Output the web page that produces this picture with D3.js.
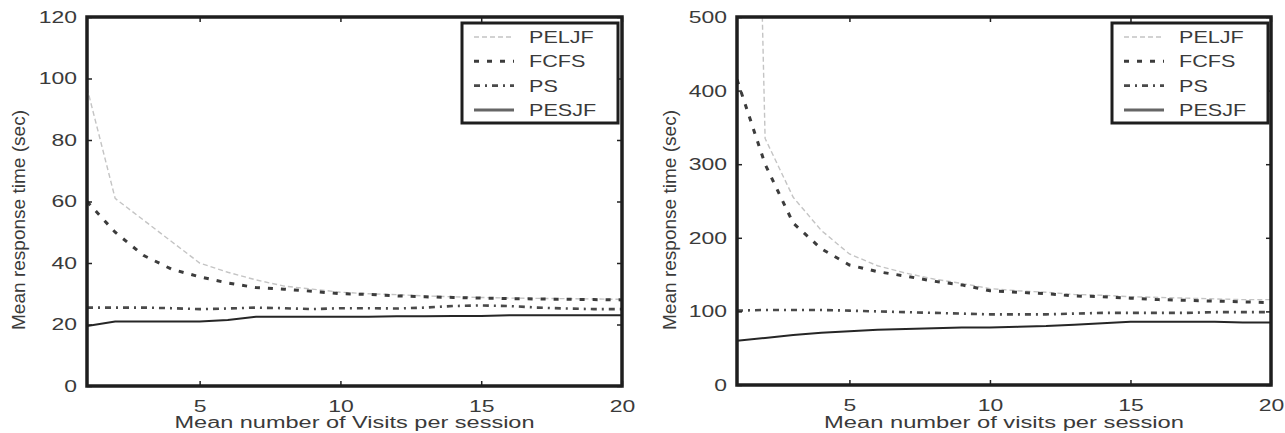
<!DOCTYPE html>
<html>
<head>
<meta charset="utf-8">
<script src="https://cdn.jsdelivr.net/npm/d3@7"></script>
<style>
  body { margin: 0; background: #fff; }
  text { font-family: "Liberation Sans", Arial, sans-serif; fill: #3a3a3a; }
</style>
</head>
<body>
<div id="chartDiv"></div>
<script>

// mean visits per session (x)
var visits = [1, 2, 3, 4, 5, 6, 7, 8, 9, 10, 11, 12, 13, 14, 15, 16, 17, 18, 19, 20];

// left panel, mean response time (sec)
var left_peljf = [97, 61, 54, 47, 40, 37, 34.5, 32.5, 31.5, 30.5, 30, 29.7, 29.3, 29, 28.8, 28.6, 28.5, 28.4, 28.3, 28.2];
var left_fcfs  = [60, 50, 42.5, 38, 35.5, 33.5, 32, 31.5, 30.8, 30, 29.8, 29.3, 29, 28.8, 28.6, 28.4, 28.3, 28.2, 28.1, 28];
var left_ps    = [25.5, 25.5, 25.5, 25.3, 25, 25.2, 25.5, 25.3, 25, 25.3, 25.3, 25.2, 25.5, 26, 26.2, 26, 25.5, 25.2, 25, 25];
var left_pesjf = [19.5, 21, 21, 21, 21, 21.5, 22.5, 22.5, 22.5, 22.5, 22.5, 22.7, 22.7, 22.8, 22.8, 23, 23, 23, 23, 23];

// right panel, mean response time (sec)
var right_peljf = [2000, 335, 255, 210, 178, 162, 152, 144, 138, 131, 128, 126, 123, 122, 120, 119, 118, 117, 116, 116];
var right_fcfs  = [415, 300, 220, 185, 163, 154, 148, 141, 136, 128, 126, 124, 121, 120, 118, 116, 115, 114, 113, 112];
var right_ps    = [101, 102, 102, 102, 101, 100, 99, 98, 97, 96, 96, 96, 97, 98, 98, 98, 98, 99, 99, 99];
var right_pesjf = [60, 64, 68, 71, 73, 75, 76, 77, 78, 78, 79, 80, 82, 84, 86, 86, 86, 86, 85, 85];

var series_names = ["PELJF", "FCFS", "PS", "PESJF"];
var x_ticks = [5, 10, 15, 20];
var left_y_ticks = [0, 20, 40, 60, 80, 100, 120];
var right_y_ticks = [0, 100, 200, 300, 400, 500];

var line_styles = {
  "PELJF": {stroke: "#c4c4c4", width: 1.4, dash: "5,3"},
  "FCFS":  {stroke: "#3c3c3c", width: 3,   dash: "5,8"},
  "PS":    {stroke: "#4a4a4a", width: 2.6, dash: "6,5,2,5"},
  "PESJF": {stroke: "#262626", width: 2,   dash: null}
};

var stretch = 1.35;   // the picture text is wide, squeeze it back out

var svg = d3.select("#chartDiv").append("svg")
    .attr("width", 1285)
    .attr("height", 433);

var panels = [
  {left: 87, right: 622, top: 17, bottom: 386, ymax: 120, yticks: left_y_ticks,
   xlabel: "Mean number of Visits per session", ylabelX: 20,
   data: [left_peljf, left_fcfs, left_ps, left_pesjf], legendX: 462},
  {left: 737, right: 1271, top: 17, bottom: 385, ymax: 500, yticks: right_y_ticks,
   xlabel: "Mean number of visits per session", ylabelX: 671,
   data: [right_peljf, right_fcfs, right_ps, right_pesjf], legendX: 1112}
];

panels.forEach(function(p, pi) { drawPanel(p, pi); });

function stretchText(sel) {
  sel.each(function() {
    var t = d3.select(this);
    var x = +t.attr("x") || 0;
    t.attr("x", x / stretch).attr("transform", "scale(" + stretch + ",1)");
  });
}

function drawPanel(p, pi) {
  var w = p.right - p.left, h = p.bottom - p.top;
  var g = svg.append("g").attr("transform", "translate(" + p.left + "," + p.top + ")");

  var x_scale = d3.scaleLinear().domain([1, 20]).range([0, w]);
  var y_scale = d3.scaleLinear().domain([0, p.ymax]).range([h, 0]);

  g.append("clipPath").attr("id", "clip" + pi)
    .append("rect").attr("width", w).attr("height", h);

  // series
  var line = d3.line()
      .x(function(d, i) { return x_scale(visits[i]); })
      .y(function(d) { return y_scale(d); });

  var lines = g.append("g").attr("clip-path", "url(#clip" + pi + ")");
  series_names.forEach(function(name, si) {
    var st = line_styles[name];
    lines.append("path")
      .datum(p.data[si])
      .attr("d", line)
      .attr("fill", "none")
      .attr("stroke", st.stroke)
      .attr("stroke-width", st.width)
      .attr("stroke-dasharray", st.dash);
  });

  // axes, ticks pointing inward on all four sides
  var xb = g.append("g").attr("transform", "translate(0," + h + ")")
      .call(d3.axisBottom(x_scale).tickValues(x_ticks).tickSizeInner(-5).tickSizeOuter(0).tickPadding(14));
  var xt = g.append("g")
      .call(d3.axisTop(x_scale).tickValues(x_ticks).tickSizeInner(-5).tickSizeOuter(0).tickFormat(""));
  var yl = g.append("g")
      .call(d3.axisLeft(y_scale).tickValues(p.yticks).tickSizeInner(-5).tickSizeOuter(0).tickPadding(10));
  var yr = g.append("g").attr("transform", "translate(" + w + ",0)")
      .call(d3.axisRight(y_scale).tickValues(p.yticks).tickSizeInner(-5).tickSizeOuter(0).tickFormat(""));

  [xb, xt, yl, yr].forEach(function(a) {
    a.select(".domain").remove();
    a.selectAll(".tick line").attr("stroke", "#222").attr("stroke-width", 1.5);
    a.selectAll("text").style("font-size", "17px").attr("fill", "#444").style("font-family", null);
  });
  stretchText(yl.selectAll("text"));
  stretchText(xb.selectAll("text"));

  // frame
  g.append("rect")
    .attr("width", w).attr("height", h)
    .attr("fill", "none").attr("stroke", "#1e1e1e").attr("stroke-width", 3.5);

  // axis titles
  svg.append("text")
    .attr("x", 0).attr("y", 0)
    .attr("text-anchor", "middle")
    .attr("transform", "translate(" + (p.left + w / 2) + ",428)")
    .attr("textLength", 360).attr("lengthAdjust", "spacingAndGlyphs")
    .style("font-size", "16px")
    .text(p.xlabel);

  svg.append("text")
    .attr("x", 0).attr("y", 0)
    .attr("text-anchor", "middle")
    .attr("transform", "translate(" + (p.ylabelX + 5) + ",220) scale(1.3,1) rotate(-90)")
    .attr("textLength", 220).attr("lengthAdjust", "spacingAndGlyphs")
    .style("font-size", "14px")
    .text("Mean response time (sec)");

  // legend
  var lg = svg.append("g").attr("transform", "translate(" + p.legendX + ",23)");
  lg.append("rect")
    .attr("width", 156).attr("height", 100)
    .attr("fill", "#fff").attr("stroke", "#1e1e1e").attr("stroke-width", 3);

  series_names.forEach(function(name, si) {
    var st = line_styles[name];
    var yy = 14 + si * 24.3;
    lg.append("line")
      .attr("x1", 12).attr("x2", 52).attr("y1", yy).attr("y2", yy)
      .attr("stroke", name == "PESJF" ? "#666" : st.stroke)
      .attr("stroke-width", name == "PESJF" ? 3 : st.width)
      .attr("stroke-dasharray", st.dash);
    lg.append("text")
      .attr("x", 67 / stretch).attr("y", yy + 6)
      .attr("transform", "scale(" + stretch + ",1)")
      .style("font-size", "16px")
      .text(name);
  });
}

</script>
</body>
</html>
